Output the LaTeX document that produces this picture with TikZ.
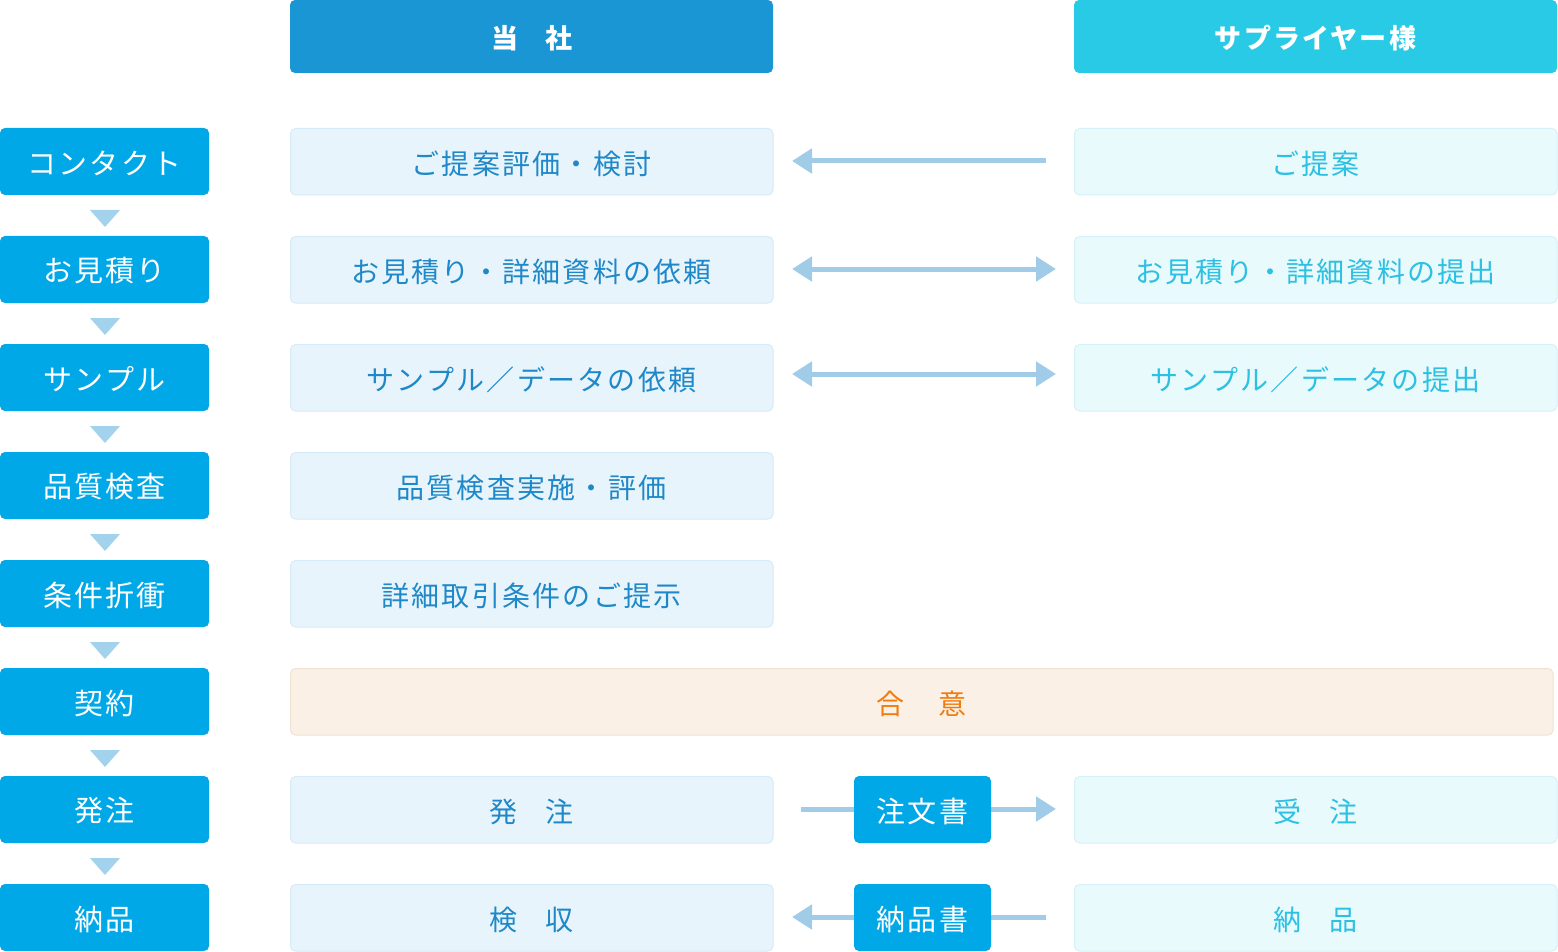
\documentclass[tikz,border=0pt]{standalone}
\usepackage{fontspec}
\setmainfont{Noto Sans CJK JP}[LetterSpace=8]
\usetikzlibrary{arrows.meta}
\definecolor{hdA}{HTML}{1B96D4}
\definecolor{hdB}{HTML}{28CAE6}
\definecolor{stp}{HTML}{00A8E8}
\definecolor{tri}{HTML}{A3D2EC}
\definecolor{midF}{HTML}{E8F4FC}
\definecolor{midD}{HTML}{D6EAF8}
\definecolor{midT}{HTML}{1E88C8}
\definecolor{rgtF}{HTML}{E9FAFD}
\definecolor{rgtD}{HTML}{D4F2F8}
\definecolor{rgtT}{HTML}{2CC0E2}
\definecolor{agF}{HTML}{FAF0E6}
\definecolor{agD}{HTML}{F0E2D2}
\definecolor{agT}{HTML}{F07C10}
\definecolor{arr}{HTML}{A0CCE8}
\begin{document}
\begin{tikzpicture}[x=1pt,y=-1pt,
  hd/.style={rounded corners=5pt,text=white,font=\fontsize{27}{30}\selectfont\bfseries},
  stepbox/.style={fill=stp,rounded corners=5pt,text=white,font=\fontsize{29}{32}\selectfont},
  mid/.style={fill=midF,draw=midD,line width=1pt,rounded corners=5pt,text=midT,font=\fontsize{28}{32}\selectfont},
  rgt/.style={fill=rgtF,draw=rgtD,line width=1pt,rounded corners=5pt,text=rgtT,font=\fontsize{28}{32}\selectfont},
  doc/.style={fill=stp,rounded corners=5pt,text=white,font=\fontsize{29}{32}\selectfont},
  ar/.style={draw=arr,line width=5pt,-{Triangle[length=20pt,width=24pt]}},
  ar2/.style={draw=arr,line width=5pt,{Triangle[length=20pt,width=24pt]}-{Triangle[length=20pt,width=24pt]}},
  ln/.style={draw=arr,line width=5pt},
  tr/.style={fill=tri}]
\useasboundingbox (0,0) rectangle (1558,952);
% headers
\fill[hdA,rounded corners=5pt] (290,0) rectangle (773,73);
\node[text=white,font=\fontsize{27}{30}\selectfont\bfseries] (h1) at (531.5,38) {当\hspace{1em}社};
\fill[hdB,rounded corners=5pt] (1074,0) rectangle (1557,73);
\node[text=white,font=\fontsize{27}{30}\selectfont\bfseries] (h2) at (1315.5,38) {サプライヤー様};
% left steps
\foreach \t [count=\i] in {コンタクト,お見積り,サンプル,品質検査,条件折衝,契約,発注,納品}{
  \pgfmathsetmacro{\yt}{128+108*(\i-1)}
  \fill[stp,rounded corners=5pt] (0,\yt) rectangle (209,\yt+67);
  \node[text=white,font=\fontsize{29}{32}\selectfont] (s\i) at (104.5,\yt+35) {\t};
}
\foreach \i in {1,...,7}{
  \pgfmathsetmacro{\yt}{210+108*(\i-1)}
  \fill[tri] (90,\yt) -- (120,\yt) -- (105,\yt+17) -- cycle;
}
% middle boxes
\foreach \t [count=\i] in {ご提案評価・検討,お見積り・詳細資料の依頼,サンプル／データの依頼,品質検査実施・評価,詳細取引条件のご提示}{
  \pgfmathsetmacro{\yt}{128+108*(\i-1)}
  \draw[fill=midF,draw=midD,line width=1pt,rounded corners=5pt] (290.5,\yt+.5) rectangle (773,\yt+67);
  \node[text=midT,font=\fontsize{28}{32}\selectfont] (m\i) at (531.5,\yt+36) {\t};
}
\draw[fill=midF,draw=midD,line width=1pt,rounded corners=5pt] (290.5,776.5) rectangle (773,843);
\node[text=midT,font=\fontsize{28}{32}\selectfont] (m7) at (531.5,812) {発\hspace{1em}注};
\draw[fill=midF,draw=midD,line width=1pt,rounded corners=5pt] (290.5,884.5) rectangle (773,951);
\node[text=midT,font=\fontsize{28}{32}\selectfont] (m8) at (531.5,920) {検\hspace{1em}収};
% right boxes
\foreach \t/\yt/\n in {ご提案/128/r1,お見積り・詳細資料の提出/236/r2,サンプル／データの提出/344/r3}{
  \draw[fill=rgtF,draw=rgtD,line width=1pt,rounded corners=5pt] (1074.5,\yt+.5) rectangle (1557,\yt+67);
  \node[text=rgtT,font=\fontsize{28}{32}\selectfont] (\n) at (1315.5,\yt+36) {\t};
}
\draw[fill=rgtF,draw=rgtD,line width=1pt,rounded corners=5pt] (1074.5,776.5) rectangle (1557,843);
\node[text=rgtT,font=\fontsize{28}{32}\selectfont] (r7) at (1315.5,812) {受\hspace{1em}注};
\draw[fill=rgtF,draw=rgtD,line width=1pt,rounded corners=5pt] (1074.5,884.5) rectangle (1557,951);
\node[text=rgtT,font=\fontsize{28}{32}\selectfont] (r8) at (1315.5,920) {納\hspace{1em}品};
% agreement
\draw[fill=agF,draw=agD,line width=1pt,rounded corners=5pt] (290.5,668.5) rectangle (1553,735);
\node[text=agT,font=\fontsize{28}{32}\selectfont] (ag) at (921.5,704) {合\hspace{1.2em}意};
% arrows
\coordinate (a1s) at (1046,161); \coordinate (a1e) at (792,161);
\draw[ar] (a1s) -- (a1e);
\coordinate (a2s) at (792,269); \coordinate (a2e) at (1056,269);
\draw[ar2] (a2s) -- (a2e);
\coordinate (a3s) at (792,374); \coordinate (a3e) at (1056,374);
\draw[ar2] (a3s) -- (a3e);
\coordinate (a7s) at (801,809); \coordinate (a7e) at (1056,809);
\draw[ar] (a7s) -- (a7e);
\coordinate (a8s) at (1046,917); \coordinate (a8e) at (792,917);
\draw[ar] (a8s) -- (a8e);
\fill[stp,rounded corners=5pt] (854,776) rectangle (991,843);
\node[text=white,font=\fontsize{29}{32}\selectfont] (d1) at (922.5,811) {注文書};
\fill[stp,rounded corners=5pt] (854,884) rectangle (991,951);
\node[text=white,font=\fontsize{29}{32}\selectfont] (d2) at (922.5,919) {納品書};
\end{tikzpicture}
\end{document}
